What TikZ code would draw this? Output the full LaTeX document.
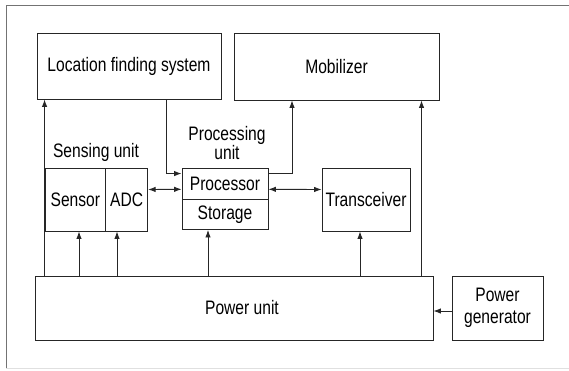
\documentclass[tikz,border=0pt]{standalone}
\usepackage{fontspec}
\setmainfont{Liberation Sans}[FakeStretch=0.8]
\usetikzlibrary{arrows.meta,calc}
\begin{document}
\begin{tikzpicture}[x=1pt,y=-1pt,
  box/.style={draw=black!85,line width=0.9pt,inner sep=0pt,anchor=center,align=center,font=\fontsize{19.5}{22}\selectfont},
  lbl/.style={inner sep=0pt,align=center,font=\fontsize{19.5}{19.5}\selectfont},
  arr/.style={draw=black!85,line width=0.9pt,-{Latex[length=7.5pt,width=5.5pt]}},
  darr/.style={draw=black!85,line width=0.9pt,{Latex[length=7.5pt,width=5.5pt]}-{Latex[length=7.5pt,width=5.5pt]}},
  ln/.style={draw=black!85,line width=0.9pt}]
\useasboundingbox (0,0) rectangle (569,370);
% frame
\draw[black!55,line width=1pt] (569,5.5) -- (6,5.5) -- (6,368);
\draw[black!12,line width=1pt] (6,368) -- (569,368);
% boxes
\node[box,minimum width=184,minimum height=66] (lfs) at (129,66) {Location finding system};
\node[box,minimum width=205,minimum height=67] (mob) at (336.5,66.5) {Mobilizer};
\node[box,minimum width=60.7,minimum height=63] (sensor) at (75.35,199.5) {Sensor};
\node[box,minimum width=42,minimum height=63] (adc) at (126.7,199.5) {ADC};
\node[box,minimum width=86,minimum height=31] (proc) at (225,183.5) {Processor};
\node[box,minimum width=86,minimum height=30.5] (stor) at (225,214.25) {Storage};
\node[box,minimum width=88,minimum height=63] (trx) at (366,199.5) {Transceiver};
\node[box,minimum width=398,minimum height=64] (pu) at (234,308) {\hspace*{16pt}Power unit};
\node[box,minimum width=91,minimum height=64] (pg) at (497.5,308) {Power\\generator};
% labels
\node[lbl] (sul) at (96,152) {Sensing unit};
\node[lbl] (pul) at (227,143) {Processing\\unit};
% helper coordinates
\coordinate (x1) at (166.7,0);
\coordinate (x2) at (292,0);
\coordinate (x3) at (79,0);
\coordinate (x4) at (117,0);
\coordinate (x5) at (208,0);
\coordinate (x6) at (360,0);
\coordinate (x7) at (421.5,0);
% connectors
\draw[arr] (pu.north -| sensor.west) -- (lfs.south -| sensor.west);
\draw[arr] (pu.north -| x3) -- (sensor.south -| x3);
\draw[arr] (pu.north -| x4) -- (adc.south -| x4);
\draw[arr] (pu.north -| x5) -- (stor.south -| x5);
\draw[arr] (pu.north -| x6) -- (trx.south -| x6);
\draw[arr] (pu.north -| x7) -- (mob.south -| x7);
\draw[arr] (lfs.south -| x1) |- ($(proc.north west)+(0,6)$);
\draw[arr] ($(proc.north east)+(0,6)$) -| (mob.south -| x2);
\draw[darr] ($(adc.east)+(0,-10)$) -- ($(proc.west)+(0,5.8)$);
\draw[darr] ($(proc.east)+(0,5.8)$) -- ($(trx.west)+(0,-10)$);
\draw[arr] (pg.west) ++(0,3) -- ($(pu.east)+(0,3)$);
\end{tikzpicture}
\end{document}
